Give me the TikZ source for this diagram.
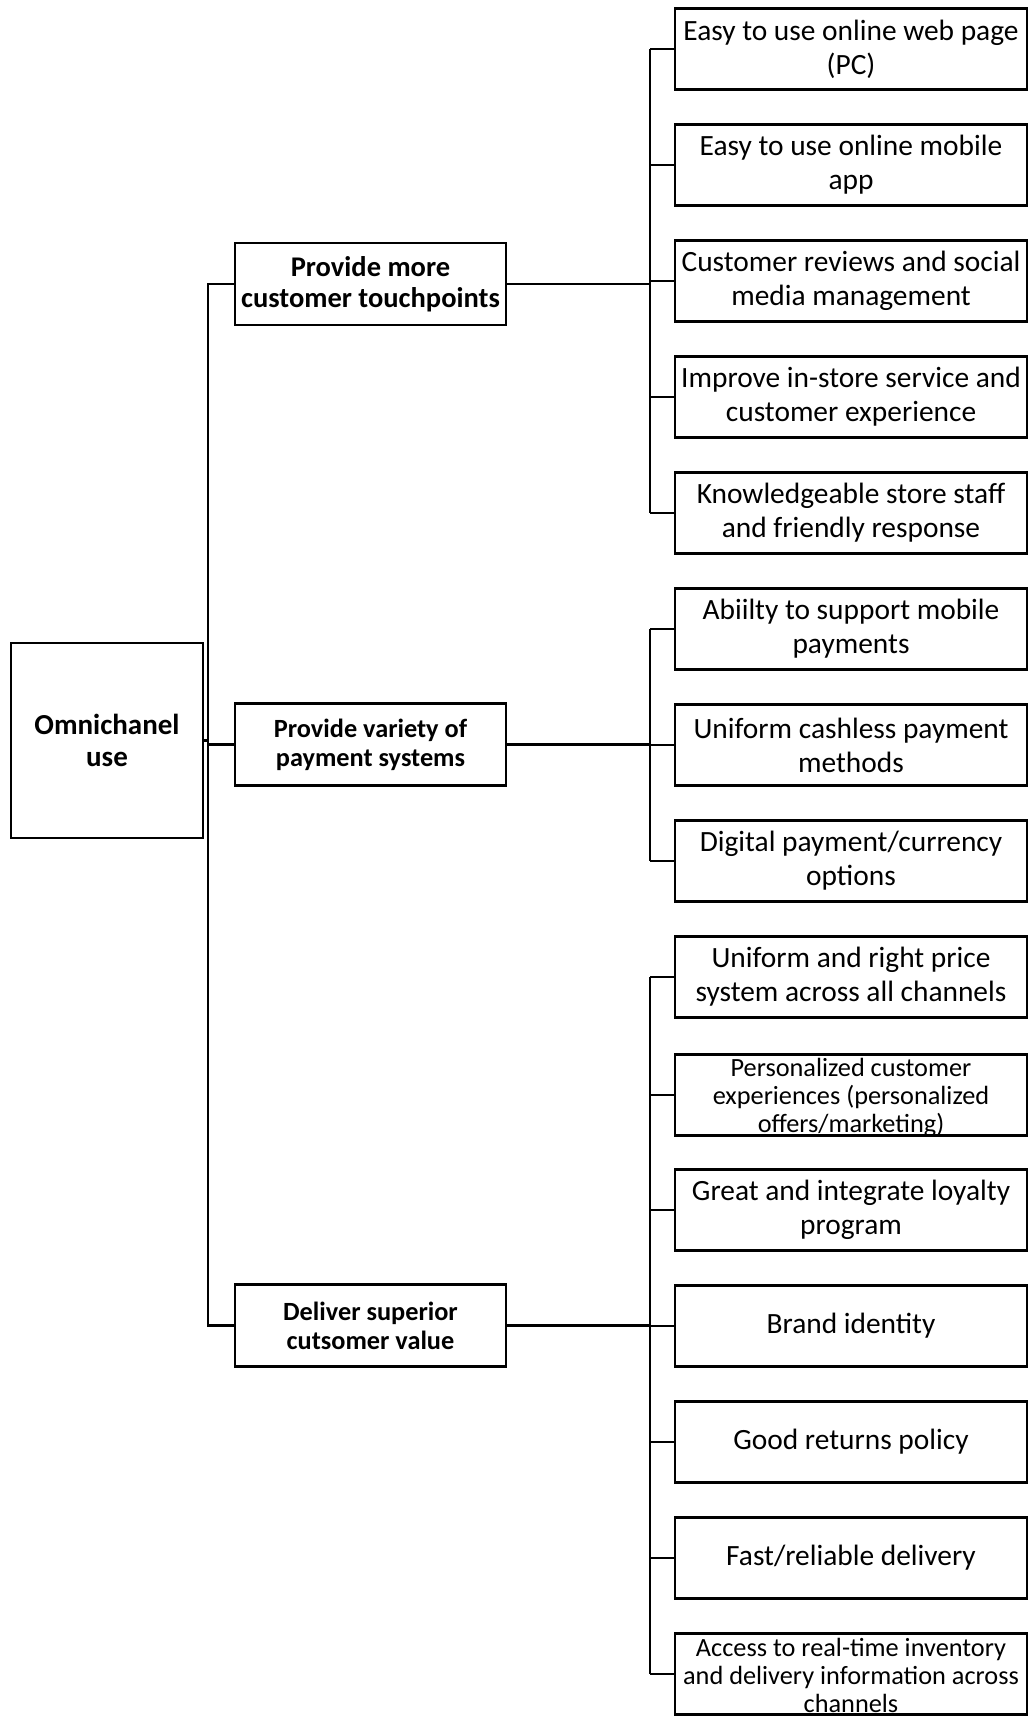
\documentclass[tikz,border=0pt]{standalone}
\usepackage{fontspec}
\setmainfont{Carlito}
\begin{document}
\begin{tikzpicture}[x=1pt,y=-1pt,
  conn/.style={line width=2.4pt},
  boxline/.style={draw, line width=2.4pt, inner sep=0pt},
  rootbox/.style={boxline, minimum width=192pt, minimum height=195pt},
  midbox/.style={boxline, minimum width=271pt, minimum height=82pt},
  leafbox/.style={boxline, minimum width=352pt, minimum height=81pt},
  roottext/.style={align=center, inner sep=0pt, font=\fontsize{29}{32}\selectfont\bfseries},
  midtext/.style={align=center, inner sep=0pt, font=\fontsize{28.5}{31}\selectfont\bfseries},
  midsmall/.style={align=center, inner sep=0pt, font=\fontsize{26.3}{29}\selectfont\bfseries},
  leaftext/.style={align=center, inner sep=0pt, font=\fontsize{29.4}{34}\selectfont},
  leafsmall/.style={align=center, inner sep=0pt, font=\fontsize{26.3}{28}\selectfont}
]
% page
\path[use as bounding box, fill=white] (0,0) rectangle (1028,1717);

% root
\node[rootbox] (root) at (107,740.5) {};
\node[roottext] (roott) at (root) {Omnichanel\\use};

% second level
\node[midbox] (m1) at (370.5,284) {};
\node[midtext] (m1t) at (m1) {Provide more\\customer touchpoints};
\node[midbox] (m2) at (370.5,744.5) {};
\node[midsmall] (m2t) at (m2) {Provide variety of\\payment systems};
\node[midbox] (m3) at (370.5,1325.5) {};
\node[midsmall] (m3t) at (m3) {Deliver superior\\cutsomer value};

% leaves: index / centre y / text style / text offset / text
\foreach \i/\yy/\sty/\dy/\txt in {
  1/49/leaftext/0/{Easy to use online web page\\(PC)},
  2/165/leaftext/0/{Easy to use online mobile\\app},
  3/281/leaftext/0/{Customer reviews and social\\media management},
  4/397/leaftext/0/{Improve in-store service and\\customer experience},
  5/513/leaftext/0/{Knowledgeable store staff\\and friendly response},
  6/629/leaftext/0/{Abiilty to support mobile\\payments},
  7/745/leaftext/0/{Uniform cashless payment\\methods},
  8/861/leaftext/0/{Digital payment/currency\\options},
  9/977/leaftext/0/{Uniform and right price\\system across all channels},
  10/1095/leafsmall/3/{Personalized customer\\experiences (personalized\\offers/marketing)},
  11/1210/leaftext/0/{Great and integrate loyalty\\program},
  12/1326/leaftext/0/{Brand identity},
  13/1442/leaftext/0/{Good returns policy},
  14/1558/leaftext/0/{Fast/reliable delivery},
  15/1674/leafsmall/1/{Access to real-time inventory\\and delivery information across\\channels}}{
  \node[leafbox] (c\i) at (851,\yy) {};
  \node[\sty] (c\i t) at (851,\yy+\dy) {\txt};
}

% spines
\coordinate (sx) at (208,0);
\coordinate (rx) at (650,0);

\draw[conn] (root.east) -- (root.east -| sx);
\draw[conn] (m1.west) -- (m1.west -| sx) -- (m3.west -| sx) -- (m3.west);
\draw[conn] (m2.west) -- (m2.west -| sx);

\draw[conn] (m1.east) -- (m1.east -| rx);
\draw[conn] (m2.east) -- (m2.east -| rx);
\draw[conn] (m3.east) -- (m3.east -| rx);

\draw[conn] (c1.west -| rx) -- (c5.west -| rx);
\draw[conn] (c6.west -| rx) -- (c8.west -| rx);
\draw[conn] (c9.west -| rx) -- (c15.west -| rx);
\foreach \i in {1,...,15}{
  \draw[conn] (c\i.west) -- (c\i.west -| rx);
}
\end{tikzpicture}
\end{document}
